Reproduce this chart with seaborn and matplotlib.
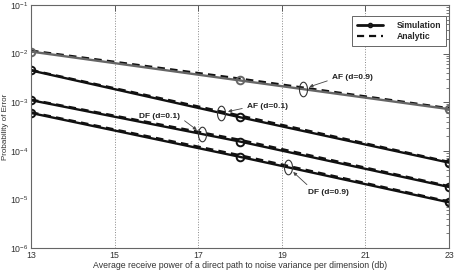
import numpy as np
import pandas as pd
import matplotlib
matplotlib.use("Agg")
import matplotlib.pyplot as plt
from matplotlib.lines import Line2D
from matplotlib.path import Path
import seaborn as sns

sns.set_theme(style="white")
plt.rcParams["font.family"] = ["Liberation Sans", "DejaVu Sans"]

# ---- data ----
snr = [13, 18, 23]
af09_sim = [1.1e-2, 2.8e-3, 7.2e-4]
af09_ana = [1.15e-2, 3.05e-3, 7.5e-4]
af01_sim = [4.5e-3, 4.9e-4, 5.7e-5]
af01_ana = [4.6e-3, 5.3e-4, 5.9e-5]
df01_sim = [1.1e-3, 1.55e-4, 1.8e-5]
df01_ana = [1.13e-3, 1.68e-4, 1.87e-5]
df09_sim = [6.0e-4, 7.5e-5, 8.7e-6]
df09_ana = [6.2e-4, 8.1e-5, 9.0e-6]

schemes = ["AF (d=0.9)", "AF (d=0.1)", "DF (d=0.1)", "DF (d=0.9)"]
sim_series = [af09_sim, af01_sim, df01_sim, df09_sim]
ana_series = [af09_ana, af01_ana, df01_ana, df09_ana]
sim_colors = ["#666666", "#111111", "#111111", "#111111"]

# annotation ellipse x-positions (dB) and label offsets (points)
ell_x = [19.5, 17.55, 17.1, 19.15]
label_off = [(21, 8), (18.5, 4.5), (-16, 13), (14.5, -18)]
label_ha = ["left", "left", "right", "left"]
arrow_rel = [(0, 0.3), (0, 0.4), (1, 0.3), (0.1, 0.9)]

rows = []
for name, s, a in zip(schemes, sim_series, ana_series):
    for x, v in zip(snr, s):
        rows.append((name, "Simulation", x, v))
    for x, v in zip(snr, a):
        rows.append((name, "Analytic", x, v))
df = pd.DataFrame(rows, columns=["scheme", "kind", "snr", "pe"])

fig = plt.figure(figsize=(4.6, 2.72), dpi=100)
ax = fig.add_axes([31 / 460, 24 / 272, 418 / 460, 243 / 272])
ax.set_yscale("log")

for name, col in zip(schemes, sim_colors):
    sub = df[(df.scheme == name) & (df.kind == "Analytic")]
    sns.lineplot(data=sub, x="snr", y="pe", ax=ax, color="#111111", lw=1.7,
                 linestyle=(0, (3.2, 2.2)), estimator=None, sort=False, legend=False)
    sub = df[(df.scheme == name) & (df.kind == "Simulation")]
    sns.lineplot(data=sub, x="snr", y="pe", ax=ax, color=col, lw=1.7,
                 marker="o", markersize=5.5, markerfacecolor="none",
                 markeredgecolor=col, markeredgewidth=1.4,
                 estimator=None, sort=False, legend=False)

# ellipse markers + labels
t = np.linspace(0, 2 * np.pi, 64)
ell_path = Path(np.column_stack([0.55 * np.cos(t), np.sin(t)]))
for name, s, ex, off, ha, rp in zip(schemes, sim_series, ell_x, label_off, label_ha, arrow_rel):
    ey = 10 ** np.interp(ex, snr, np.log10(s))
    ax.plot([ex], [ey], marker=ell_path, markersize=10.5, markerfacecolor="none",
            markeredgecolor="#333333", markeredgewidth=0.8, linestyle="none")
    ax.annotate(name, xy=(ex, ey), xytext=off, textcoords="offset points",
                ha=ha, va="center", fontsize=6, fontweight="bold", color="#222222",
                arrowprops=dict(arrowstyle="-|>", color="#444444", lw=0.6,
                                mutation_scale=5, shrinkA=1, shrinkB=5, relpos=rp))

ax.set_xlim(13, 23)
ax.set_ylim(1e-6, 1e-1)
ax.set_xticks([13, 15, 17, 19, 21, 23])
ax.xaxis.grid(True, linestyle=":", color="#888888", lw=0.7)
ax.yaxis.grid(False)
ax.tick_params(which="both", direction="in", top=True, right=True,
               labelsize=6.3, colors="#444444", labelcolor="#333333")
ax.tick_params(which="major", length=4, width=0.6)
ax.tick_params(which="minor", length=2, width=0.5)
ax.xaxis.set_tick_params(pad=2)
ax.yaxis.set_tick_params(pad=2)
for sp in ax.spines.values():
    sp.set_color("#666666")
    sp.set_linewidth(0.8)

ax.set_xlabel("Average receive power of a direct path to noise variance per dimension (db)",
              fontsize=6.3, color="#333333", labelpad=1)
ax.set_ylabel("Probability of Error", fontsize=5.8, color="#333333")
ax.yaxis.set_label_coords(-0.052, 0.5)

handles = [Line2D([], [], color="#111111", lw=2, marker="o", markersize=3,
                  markerfacecolor="none", markeredgewidth=1),
           Line2D([], [], color="#111111", lw=1.6, linestyle=(0, (3.2, 2.2)))]
leg = ax.legend(handles, ["Simulation", "Analytic"], loc="upper right",
                bbox_to_anchor=(0.998, 0.965), prop={"weight": "bold", "size": 6.2},
                frameon=True, fancybox=False, edgecolor="#666666", framealpha=1,
                handlelength=3, borderpad=0.55, labelspacing=0.3, handletextpad=1.6,
                borderaxespad=0.3)
leg.get_frame().set_linewidth(0.7)

fig.savefig("out.png", dpi=100)
